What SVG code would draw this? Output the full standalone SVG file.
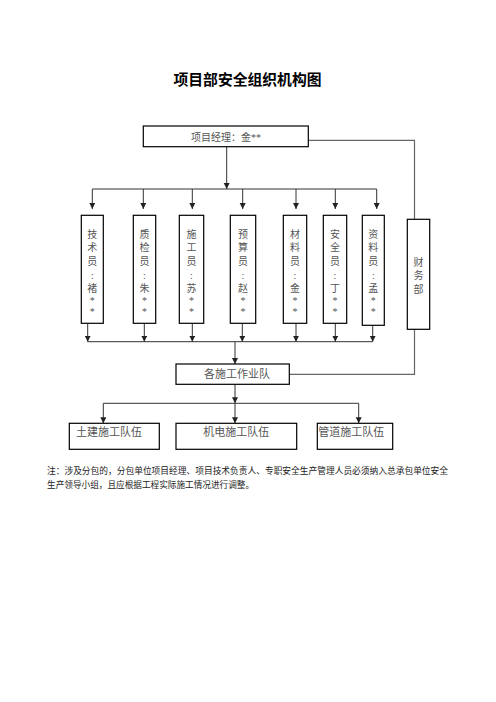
<svg xmlns="http://www.w3.org/2000/svg" width="496" height="702" viewBox="0 0 496 702">
<defs>
<marker id="arr" markerUnits="userSpaceOnUse" markerWidth="6" markerHeight="7" refX="6" refY="3" orient="auto">
<path d="M0,0 L6,3 L0,6 z" fill="#222"/>
</marker>
<style>
.box{fill:#fff;stroke:#000;stroke-width:1.2}
.ln{fill:none;stroke:#333;stroke-width:1}
.gl{fill:none;stroke:#666;stroke-width:1.2}
.t{font-family:"Liberation Serif","Noto Sans CJK SC",serif;font-size:10px;fill:#555;text-anchor:middle}
.tb{font-family:"Liberation Serif","Noto Sans CJK SC",serif;font-size:11px;fill:#555}
.title{font-family:"Liberation Sans","Noto Sans CJK SC",sans-serif;font-size:14.8px;font-weight:bold;fill:#000;text-anchor:middle}
.note{font-family:"Liberation Sans","Noto Sans CJK SC",sans-serif;font-size:8.7px;fill:#222}
</style>
</defs>
<rect width="496" height="702" fill="#fff"/>
<text class="title" x="247.5" y="84.5">项目部安全组织机构图</text>

<g id="connectors">
<polyline class="gl" points="308.3,140.3 414.5,140.3 414.5,374.3 289.3,374.3"/>
<line class="ln" x1="226.7" y1="146.7" x2="226.7" y2="189" marker-end="url(#arr)"/>
<line class="ln" x1="92.3" y1="189" x2="376.7" y2="189"/>
<line class="ln" x1="92.3" y1="189" x2="92.3" y2="209" marker-end="url(#arr)"/>
<line class="ln" x1="143.3" y1="189" x2="143.3" y2="209" marker-end="url(#arr)"/>
<line class="ln" x1="192.3" y1="189" x2="192.3" y2="209" marker-end="url(#arr)"/>
<line class="ln" x1="242.7" y1="189" x2="242.7" y2="209" marker-end="url(#arr)"/>
<line class="ln" x1="296" y1="189" x2="296" y2="209" marker-end="url(#arr)"/>
<line class="ln" x1="335.3" y1="189" x2="335.3" y2="209" marker-end="url(#arr)"/>
<line class="ln" x1="376.7" y1="189" x2="376.7" y2="209" marker-end="url(#arr)"/>
<line class="ln" x1="87.7" y1="323.3" x2="87.7" y2="341.7" marker-end="url(#arr)"/>
<line class="ln" x1="144.3" y1="323.3" x2="144.3" y2="341.7" marker-end="url(#arr)"/>
<line class="ln" x1="192.3" y1="323.3" x2="192.3" y2="341.7" marker-end="url(#arr)"/>
<line class="ln" x1="242.3" y1="323.3" x2="242.3" y2="341.7" marker-end="url(#arr)"/>
<line class="ln" x1="296" y1="323.3" x2="296" y2="341.7" marker-end="url(#arr)"/>
<line class="ln" x1="335.3" y1="323.3" x2="335.3" y2="341.7" marker-end="url(#arr)"/>
<line class="ln" x1="372.7" y1="325.3" x2="372.7" y2="341.7" marker-end="url(#arr)"/>
<line class="ln" x1="87.7" y1="341.7" x2="372.7" y2="341.7"/>
<line class="ln" x1="235" y1="341.7" x2="235" y2="364" marker-end="url(#arr)"/>
<line class="ln" x1="235" y1="384.3" x2="235" y2="403.3" marker-end="url(#arr)"/>
<line class="ln" x1="103.3" y1="403.3" x2="358.7" y2="403.3"/>
<line class="ln" x1="103.3" y1="403.3" x2="103.3" y2="423.3" marker-end="url(#arr)"/>
<line class="ln" x1="235" y1="403.3" x2="235" y2="423.3" marker-end="url(#arr)"/>
<line class="ln" x1="358.7" y1="403.3" x2="358.7" y2="423.3" marker-end="url(#arr)"/>
</g>

<g id="pm">
<rect class="box" x="143.3" y="126" width="165" height="20.7"/>
<text class="t" x="226" y="140.5">项目经理：金**</text>
</g>

<g id="jishu">
<rect class="box" x="81.3" y="215.3" width="22" height="108"/>
<text class="t"><tspan x="92.3" y="237.5">技</tspan><tspan x="92.3" y="250.5">术</tspan><tspan x="92.3" y="264.5">员</tspan><tspan x="92.3" y="278.5">:</tspan><tspan x="92.3" y="291.5">褚</tspan><tspan x="92.3" y="304">*</tspan><tspan x="92.3" y="315">*</tspan></text>
</g>
<g id="zhijian">
<rect class="box" x="133.3" y="215.3" width="22.4" height="108"/>
<text class="t"><tspan x="144.5" y="237.5">质</tspan><tspan x="144.5" y="250.5">检</tspan><tspan x="144.5" y="264.5">员</tspan><tspan x="144.5" y="278.5">:</tspan><tspan x="144.5" y="291.5">朱</tspan><tspan x="144.5" y="304">*</tspan><tspan x="144.5" y="315">*</tspan></text>
</g>
<g id="shigong">
<rect class="box" x="179.3" y="215.3" width="24.4" height="108"/>
<text class="t"><tspan x="191.5" y="237.5">施</tspan><tspan x="191.5" y="250.5">工</tspan><tspan x="191.5" y="264.5">员</tspan><tspan x="191.5" y="278.5">:</tspan><tspan x="191.5" y="291.5">苏</tspan><tspan x="191.5" y="304">*</tspan><tspan x="191.5" y="315">*</tspan></text>
</g>
<g id="yusuan">
<rect class="box" x="230.3" y="215.3" width="25.4" height="108"/>
<text class="t"><tspan x="243" y="237.5">预</tspan><tspan x="243" y="250.5">算</tspan><tspan x="243" y="264.5">员</tspan><tspan x="243" y="278.5">:</tspan><tspan x="243" y="291.5">赵</tspan><tspan x="243" y="304">*</tspan><tspan x="243" y="315">*</tspan></text>
</g>
<g id="cailiao">
<rect class="box" x="283.3" y="215.3" width="23.4" height="108"/>
<text class="t"><tspan x="295" y="237.5">材</tspan><tspan x="295" y="250.5">料</tspan><tspan x="295" y="264.5">员</tspan><tspan x="295" y="278.5">:</tspan><tspan x="295" y="291.5">金</tspan><tspan x="295" y="304">*</tspan><tspan x="295" y="315">*</tspan></text>
</g>
<g id="anquan">
<rect class="box" x="323.3" y="215.3" width="23.4" height="108"/>
<text class="t"><tspan x="335" y="237.5">安</tspan><tspan x="335" y="250.5">全</tspan><tspan x="335" y="264.5">员</tspan><tspan x="335" y="278.5">:</tspan><tspan x="335" y="291.5">丁</tspan><tspan x="335" y="304">*</tspan><tspan x="335" y="315">*</tspan></text>
</g>
<g id="ziliao">
<rect class="box" x="362.3" y="215.3" width="22" height="110"/>
<text class="t"><tspan x="373.3" y="237.5">资</tspan><tspan x="373.3" y="250.5">料</tspan><tspan x="373.3" y="264.5">员</tspan><tspan x="373.3" y="278.5">:</tspan><tspan x="373.3" y="291.5">孟</tspan><tspan x="373.3" y="304">*</tspan><tspan x="373.3" y="315">*</tspan></text>
</g>
<g id="caiwu">
<rect class="box" x="407.3" y="219.3" width="22.4" height="110"/>
<text class="t"><tspan x="418.5" y="265.8">财</tspan><tspan x="418.5" y="278.5">务</tspan><tspan x="418.5" y="292.8">部</tspan></text>
</g>

<g id="gedui">
<rect class="box" x="176" y="364" width="113.3" height="20.3"/>
<text class="tb" x="237" y="378.2" text-anchor="middle">各施工作业队</text>
</g>
<g id="tujian">
<rect class="box" x="69.3" y="423.3" width="90" height="26"/>
<text class="tb" x="76" y="436.2">土建施工队伍</text>
</g>
<g id="jidian">
<rect class="box" x="176" y="423.3" width="120.7" height="26"/>
<text class="tb" x="236.3" y="436.2" text-anchor="middle">机电施工队伍</text>
</g>
<g id="guandao">
<rect class="box" x="317.3" y="423.3" width="75.4" height="26"/>
<text class="tb" x="351.3" y="436.2" text-anchor="middle">管道施工队伍</text>
</g>

<text class="note" x="47" y="473.7" textLength="401" lengthAdjust="spacingAndGlyphs">注：涉及分包的，分包单位项目经理、项目技术负责人、专职安全生产管理人员必须纳入总承包单位安全</text>
<text class="note" x="47" y="488" textLength="207" lengthAdjust="spacingAndGlyphs">生产领导小组，且应根据工程实际施工情况进行调整。</text>
</svg>
